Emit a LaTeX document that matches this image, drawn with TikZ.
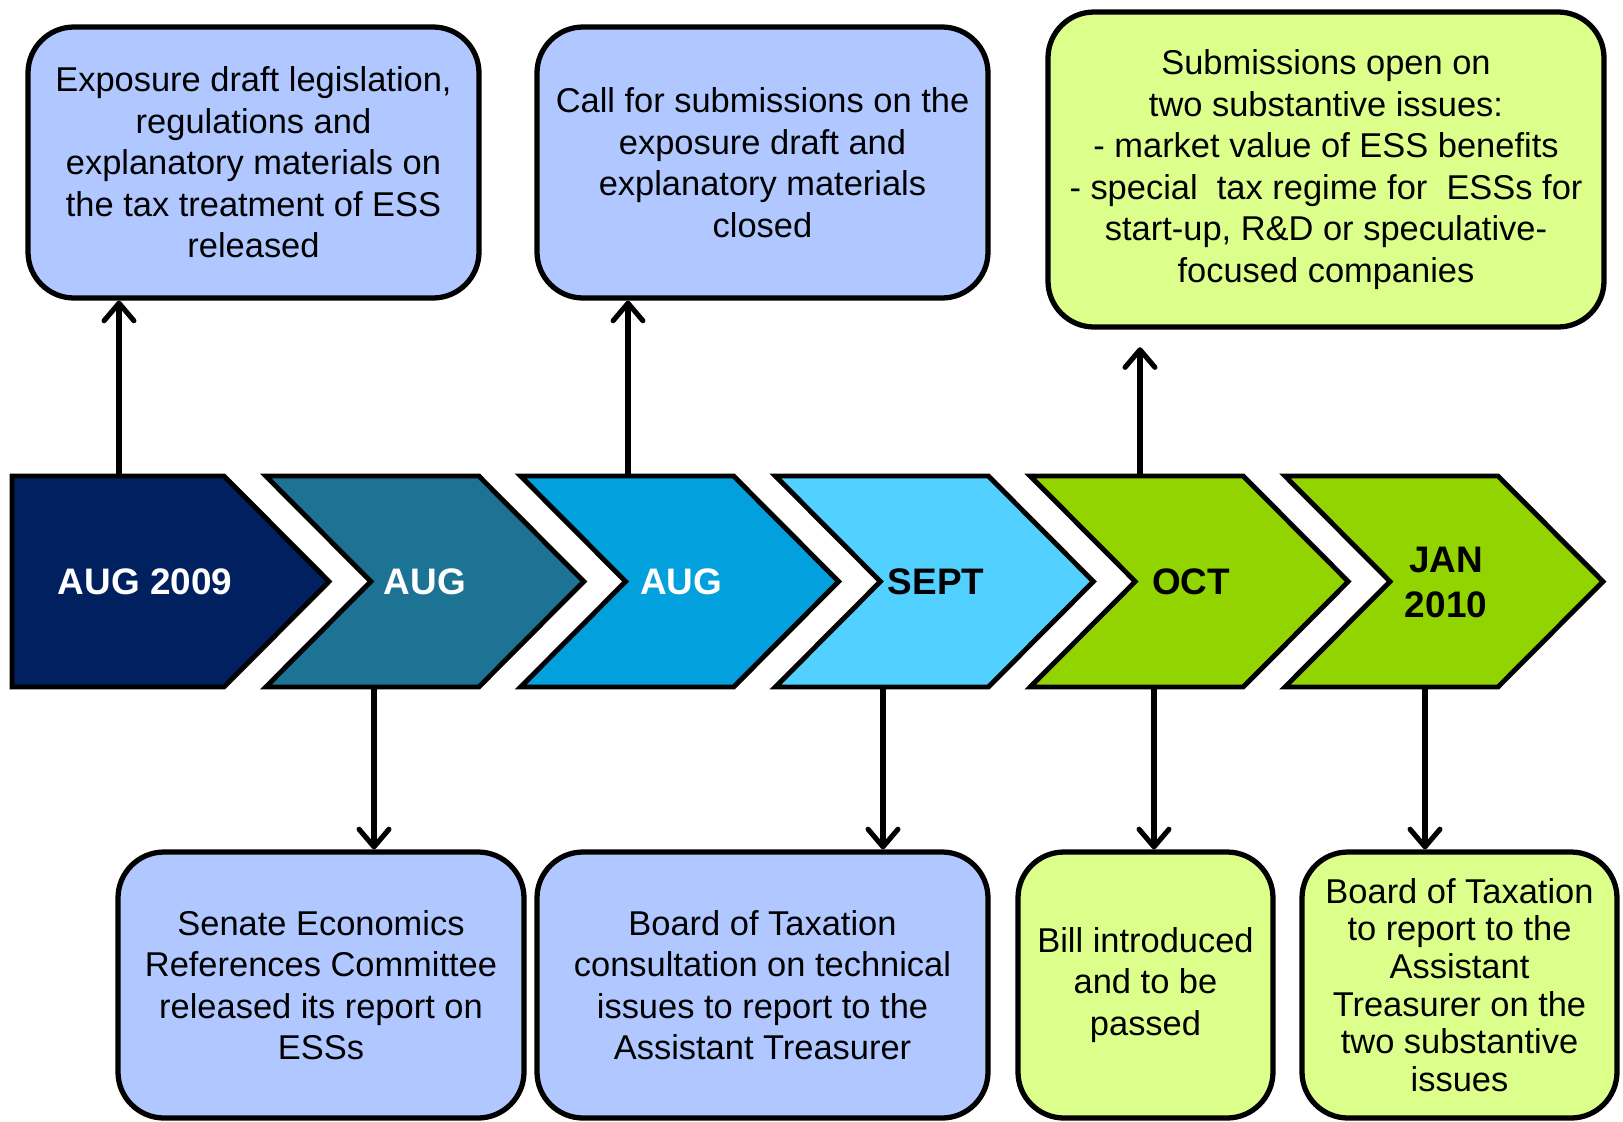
\documentclass[tikz,border=0pt]{standalone}
\usepackage{fontspec}
\setmainfont{Liberation Sans}
\usetikzlibrary{arrows.meta, positioning}

\definecolor{chevnavy}{RGB}{0,32,96}
\definecolor{chevteal}{RGB}{28,115,148}
\definecolor{chevcyan}{RGB}{3,160,222}
\definecolor{chevsky}{RGB}{82,208,255}
\definecolor{chevgreen}{RGB}{146,212,0}
\definecolor{boxblue}{RGB}{176,200,255}
\definecolor{boxgreen}{RGB}{220,255,140}

\tikzset{
  box/.style={draw, line width=1.5pt, rounded corners=4.6mm, align=center,
    inner sep=0pt, font=\fontsize{9.8}{11.8}\selectfont},
  bluebox/.style={box, fill=boxblue},
  greenbox/.style={box, fill=boxgreen},
  chev/.style={draw, line width=1.4pt},
  month/.style={font=\fontsize{10.5}{12.8}\selectfont\bfseries, align=center},
  arr/.style={-{Straight Barb[length=5pt,width=8.5pt,round]}, line width=1.45pt},
}

\begin{document}
\begin{tikzpicture}[x=0.1mm, y=-0.1mm]
  \useasboundingbox (0,0) rectangle (1623,1121);

  % timeline chevrons
  \draw[chev, fill=chevnavy] (12,476) -- (224,476) -- (329,581.5) -- (224,687) -- (12,687) -- cycle;
  \foreach \i/\col in {1/chevteal, 2/chevcyan, 3/chevsky, 4/chevgreen, 5/chevgreen} {
    \pgfmathsetmacro\tip{329+254.8*\i}
    \draw[chev, fill=\col] (\tip-318,476) -- (\tip-105,476) -- (\tip,581.5)
      -- (\tip-105,687) -- (\tip-318,687) -- (\tip-213,581.5) -- cycle;
  }

  % month labels
  \node[month, text=white] (m1) at (145,582) {AUG 2009};
  \node[month, text=white] (m2) at (425,582) {AUG};
  \node[month, text=white] (m3) at (681,582) {AUG};
  \node[month] (m4) at (936,582) {SEPT};
  \node[month] (m5) at (1191,582) {OCT};
  \node[month] (m6) at (1446,582) {JAN\\2010};

  % events above the timeline
  \node[bluebox, minimum width=45.1mm, minimum height=27.1mm] (expo) at (253.5,162.5)
    {Exposure draft legislation,\\regulations and\\explanatory materials on\\the tax treatment of ESS\\released};
  \node[bluebox, minimum width=45.1mm, minimum height=27.1mm] (callsub) at (762.5,162.5)
    {Call for submissions on the\\exposure draft and\\explanatory materials\\closed};
  \node[greenbox, minimum width=55.6mm, minimum height=31.5mm] (subopen) at (1326,169.5)
    {Submissions open on\\two substantive issues:\\- market value of ESS benefits\\- special\ \ tax regime for\ \ ESSs for\\start-up, R\&D or speculative-\\focused companies};

  % events below the timeline
  \node[bluebox, minimum width=40.6mm, minimum height=26.6mm] (senate) at (321,985)
    {Senate Economics\\References Committee\\released its report on\\ESSs};
  \node[bluebox, minimum width=45.1mm, minimum height=26.6mm] (botcons) at (762.5,985)
    {Board of Taxation\\consultation on technical\\issues to report to the\\Assistant Treasurer};
  \node[greenbox, minimum width=25.5mm, minimum height=26.6mm] (bill) at (1145.5,985)
    {Bill introduced\\and to be\\passed};
  \node[greenbox, minimum width=31.5mm, minimum height=26.6mm,
    font=\fontsize{9.8}{10.7}\selectfont] (botreport) at (1459.5,985)
    {Board of Taxation\\to report to the\\Assistant\\Treasurer on the\\two substantive\\issues};

  % connectors
  \coordinate (top) at (0,476);
  \coordinate (bot) at (0,687);
  \coordinate (u1) at (119,0);
  \coordinate (u2) at (628,0);
  \coordinate (u3) at (1140,0);
  \coordinate (d1) at (374,0);
  \coordinate (d2) at (883,0);
  \coordinate (d3) at (1154,0);
  \coordinate (d4) at (1425,0);
  \draw[arr] (u1 |- top) -- (u1 |- expo.south);
  \draw[arr] (u2 |- top) -- (u2 |- callsub.south);
  \draw[arr, shorten >=5pt] (u3 |- top) -- (u3 |- subopen.south);
  \draw[arr] (d1 |- bot) -- (d1 |- senate.north);
  \draw[arr] (d2 |- bot) -- (d2 |- botcons.north);
  \draw[arr] (d3 |- bot) -- (d3 |- bill.north);
  \draw[arr] (d4 |- bot) -- (d4 |- botreport.north);
\end{tikzpicture}
\end{document}
